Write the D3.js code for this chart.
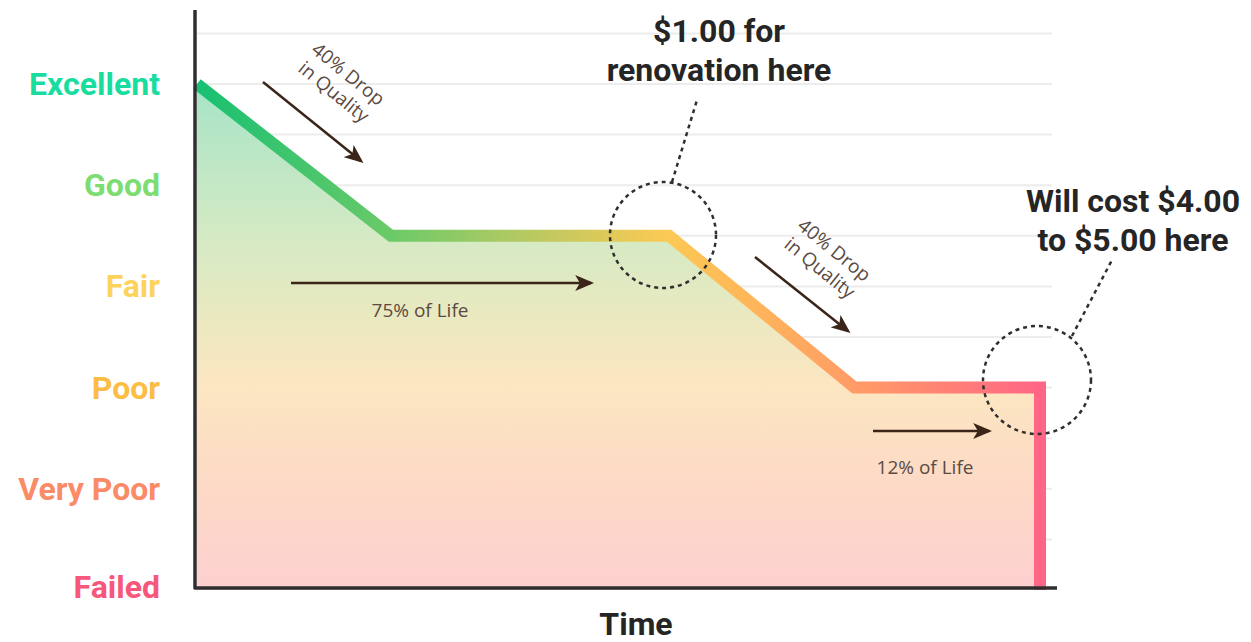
<!DOCTYPE html>
<html>
<head>
<meta charset="utf-8">
<script src="https://cdn.jsdelivr.net/npm/d3@7"></script>
<style>
  html, body { margin: 0; padding: 0; background: #fff; }
  svg { display: block; }
</style>
</head>
<body>
<script>
// Condition levels, bottom to top
const levels = ["Failed", "Very Poor", "Poor", "Fair", "Good", "Excellent"];
const levelColors = ["#f7577b", "#fb8a66", "#fcbd45", "#fdd35c", "#7ddd73", "#18dd9f"];

// Condition of the asset over its life (time in % of life, quality in level units)
const lifeTime = [0, 23, 56, 78, 100, 100];
const lifeQuality = [5, 3.5, 3.5, 2, 2, 0];

// Half-level grid lines
const gridValues = [0.5, 1, 1.5, 2, 2.5, 3, 3.5, 4, 4.5, 5, 5.5];

const W = 1251, H = 642;
const svg = d3.select("body").append("svg").attr("width", W).attr("height", H);

const x = d3.scaleLinear().domain([0, 100]).range([197, 1040]);
const y = d3.scaleLinear().domain([0, 5]).range([590, 84]);

const defs = svg.append("defs");

// Colour ramp along the condition line
const lineGrad = defs.append("linearGradient")
  .attr("id", "lineGrad").attr("gradientUnits", "userSpaceOnUse")
  .attr("x1", x(0)).attr("x2", x(100) + 6).attr("y1", 0).attr("y2", 0);
[[0, "#17c072"], [0.23, "#6cca68"], [0.38, "#b3c962"], [0.55, "#fbca55"],
 [0.66, "#ffb45a"], [0.79, "#ff9868"], [1, "#ff6487"]]
  .forEach(([o, c]) => lineGrad.append("stop").attr("offset", o).attr("stop-color", c));

// Soft vertical wash under the line
const areaGrad = defs.append("linearGradient")
  .attr("id", "areaGrad").attr("gradientUnits", "userSpaceOnUse")
  .attr("x1", 0).attr("x2", 0).attr("y1", y(5)).attr("y2", y(0));
[[0, "#a6e4c7"], [0.3, "#d4eac4"], [0.45, "#e9e9c0"], [0.6, "#fce6c1"],
 [0.8, "#fdd9c6"], [1, "#fdd0d0"]]
  .forEach(([o, c]) => areaGrad.append("stop").attr("offset", o).attr("stop-color", c));

// Arrowhead
defs.append("marker")
  .attr("id", "head").attr("viewBox", "0 0 12 10")
  .attr("refX", 10).attr("refY", 5)
  .attr("markerWidth", 19).attr("markerHeight", 16)
  .attr("markerUnits", "userSpaceOnUse")
  .attr("orient", "auto")
  .append("path").attr("d", "M0,0 L12,5 L0,10 L3,5 Z").attr("fill", "#3b2418");

// Grid lines
svg.append("g").selectAll("line").data(gridValues).join("line")
  .attr("x1", 197).attr("x2", 1052)
  .attr("y1", d => y(d)).attr("y2", d => y(d))
  .attr("stroke", "#ececec").attr("stroke-width", 2);

const pts = lifeTime.map((t, i) => [t, lifeQuality[i]]);

// Area under the condition curve
svg.append("path").datum(pts)
  .attr("d", d3.area().x(d => x(d[0])).y0(y(0)).y1(d => y(d[1])))
  .attr("fill", "url(#areaGrad)");

// Condition line
svg.append("path").datum(pts)
  .attr("d", d3.line().x(d => x(d[0])).y(d => y(d[1])))
  .attr("fill", "none")
  .attr("stroke", "url(#lineGrad)")
  .attr("stroke-width", 12)
  .attr("stroke-linejoin", "miter");

// Axes
svg.append("line").attr("x1", 195).attr("x2", 195).attr("y1", 10).attr("y2", 589)
  .attr("stroke", "#2e2e2e").attr("stroke-width", 3.5);
svg.append("line").attr("x1", 194).attr("x2", 1057).attr("y1", 588).attr("y2", 588)
  .attr("stroke", "#2e2e2e").attr("stroke-width", 3.5);

// Level labels
svg.append("g").selectAll("text").data(levels).join("text")
  .attr("x", 160)
  .attr("y", (d, i) => y(i) + 11 - (i === 0 ? 3 : 0))
  .attr("text-anchor", "end")
  .attr("font-family", "Roboto, sans-serif")
  .attr("font-weight", 700)
  .attr("font-size", 32)
  .attr("fill", (d, i) => levelColors[i])
  .text(d => d);

// Axis title
svg.append("text").attr("x", 636).attr("y", 635)
  .attr("text-anchor", "middle")
  .attr("font-family", "Roboto, sans-serif").attr("font-weight", 700)
  .attr("font-size", 32).attr("fill", "#252525")
  .text("Time");

const ink = "#3b2418";
const note = "#5b4a42";

// Drop arrows with rotated captions
function dropNote(x1, y1, x2, y2, cx, cy) {
  svg.append("line").attr("x1", x1).attr("y1", y1).attr("x2", x2).attr("y2", y2)
    .attr("stroke", ink).attr("stroke-width", 2.5).attr("marker-end", "url(#head)");
  const g = svg.append("g").attr("transform", `translate(${cx},${cy}) rotate(39)`);
  g.append("text").attr("y", -5).attr("text-anchor", "middle")
    .attr("font-family", "'Open Sans', sans-serif").attr("font-size", 19)
    .attr("fill", note).text("40% Drop");
  g.append("text").attr("y", 18).attr("text-anchor", "middle")
    .attr("font-family", "'Open Sans', sans-serif").attr("font-size", 19)
    .attr("fill", note).text("in Quality");
}
dropNote(263, 82, 361, 161, 341, 83);
dropNote(755, 257, 848, 331, 827, 259);

// Life-span arrows
function lifeNote(x1, x2, yy, label, lx, ly) {
  svg.append("line").attr("x1", x1).attr("x2", x2).attr("y1", yy).attr("y2", yy)
    .attr("stroke", ink).attr("stroke-width", 2.5).attr("marker-end", "url(#head)");
  svg.append("text").attr("x", lx).attr("y", ly).attr("text-anchor", "middle")
    .attr("font-family", "'Open Sans', sans-serif").attr("font-size", 19)
    .attr("fill", note).text(label);
}
lifeNote(291, 591, 283, "75% of Life", 420, 317);
lifeNote(873, 989, 431, "12% of Life", 925, 474);

// Cost callouts
const dash = "#2f2f2f";
function callout(cx, cy, r, lx1, ly1, lx2, ly2, lines, tx, ty) {
  svg.append("line").attr("x1", lx1).attr("y1", ly1).attr("x2", lx2).attr("y2", ly2)
    .attr("stroke", dash).attr("stroke-width", 2.5).attr("stroke-dasharray", "4,4");
  svg.append("circle").attr("cx", cx).attr("cy", cy).attr("r", r)
    .attr("fill", "none").attr("stroke", dash).attr("stroke-width", 2.5)
    .attr("stroke-dasharray", "4,4");
  lines.forEach((t, i) => svg.append("text")
    .attr("x", tx).attr("y", ty + i * 39)
    .attr("text-anchor", "middle")
    .attr("font-family", "Roboto, sans-serif").attr("font-weight", 700)
    .attr("font-size", 32).attr("fill", "#252525").text(t));
}
callout(663, 235, 53, 672, 182, 697, 100, ["$1.00 for", "renovation here"], 719, 42);
callout(1037, 380, 54, 1072, 336, 1112, 260, ["Will cost $4.00", "to $5.00 here"], 1133, 212);
</script>
</body>
</html>
